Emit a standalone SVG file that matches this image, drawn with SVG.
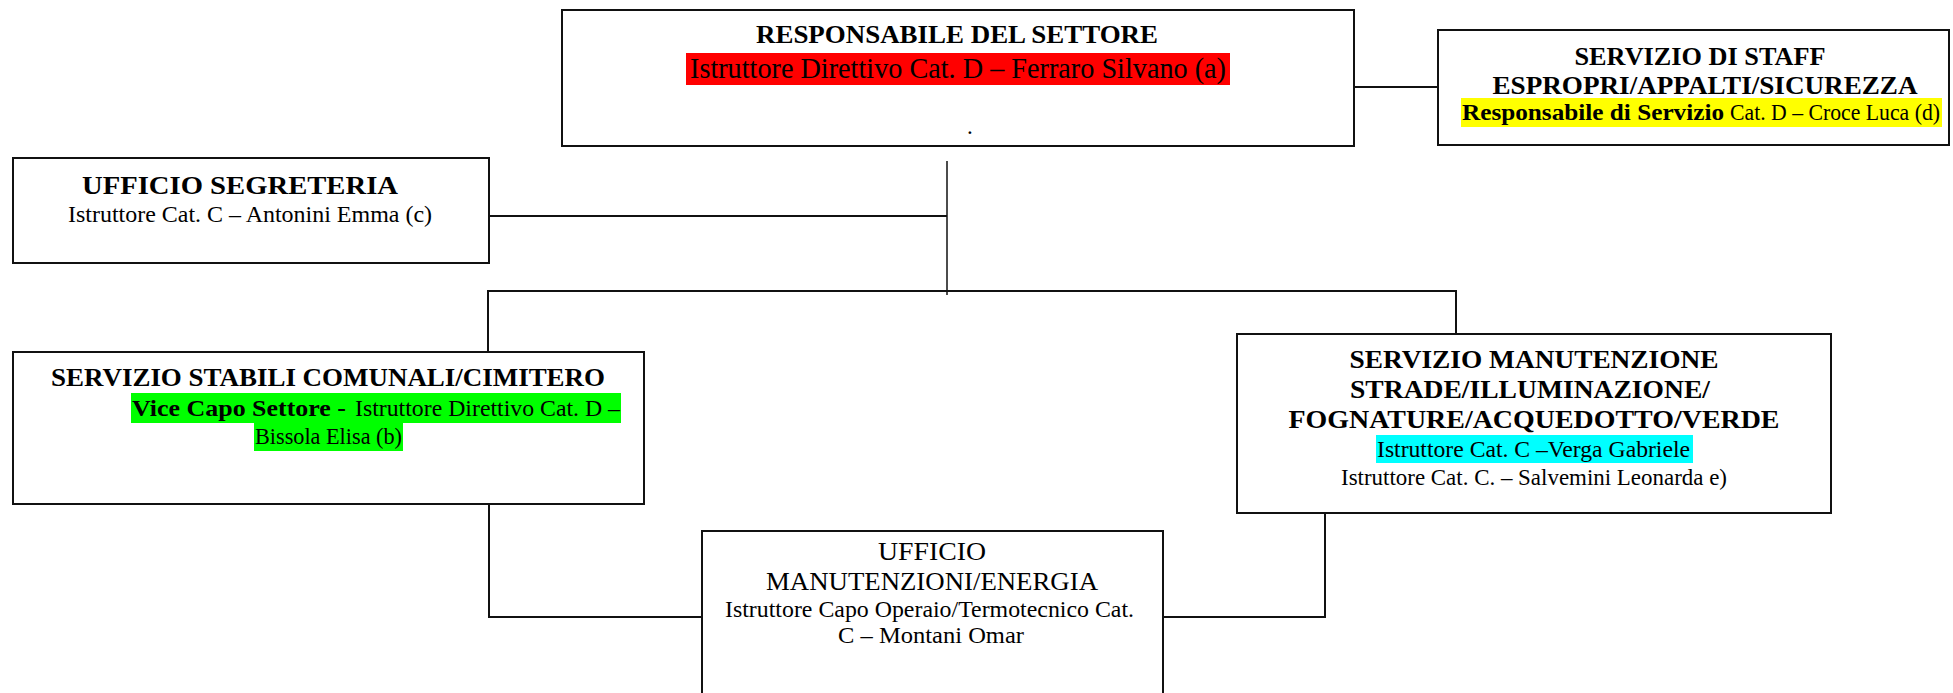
<svg xmlns="http://www.w3.org/2000/svg" width="1953" height="693" viewBox="0 0 1953 693">
<style>
.box{fill:#fff;stroke:#111;stroke-width:2}
.conn line,.conn polyline{stroke:#111;stroke-width:2;fill:none}
text{font-family:"Liberation Serif","Times New Roman",serif;fill:#000}
.t{font-size:25px;font-weight:bold}
.tn{font-size:25px}
.b{font-size:23px}
.bb{font-size:23px;font-weight:bold}
.red{font-size:30px}
.c{text-anchor:middle}
</style>
<rect width="1953" height="693" fill="#fff"/>
<g id="connectors" class="conn">
<line x1="1354" y1="87" x2="1438" y2="87"/>
<line x1="947" y1="161" x2="947" y2="295" style="stroke-width:1.5"/>
<line x1="489" y1="216" x2="947" y2="216"/>
<polyline points="488,352 488,291 1456,291 1456,334"/>
<polyline points="489,504 489,617 701,617"/>
<polyline points="1325,513 1325,617 1163,617"/>
</g>
<g id="responsabile">
<rect class="box" x="562" y="10" width="792" height="136"/>
<text class="t c" x="957" y="43" textLength="402" lengthAdjust="spacingAndGlyphs">RESPONSABILE DEL SETTORE</text>
<rect x="686" y="53" width="544" height="32" fill="#ff0000"/>
<text class="red c" x="958" y="78" textLength="536" lengthAdjust="spacingAndGlyphs">Istruttore Direttivo Cat. D – Ferraro Silvano (a)</text>
<text class="b" x="967" y="134">.</text>
</g>
<g id="staff">
<rect class="box" x="1438" y="30" width="511" height="115"/>
<text class="t c" x="1700" y="65" textLength="251" lengthAdjust="spacingAndGlyphs">SERVIZIO DI STAFF</text>
<text class="t c" x="1705" y="94" textLength="425" lengthAdjust="spacingAndGlyphs">ESPROPRI/APPALTI/SICUREZZA</text>
<rect x="1461" y="98" width="481" height="29" fill="#ffff00"/>
<text class="bb" x="1462" y="120" textLength="262" lengthAdjust="spacingAndGlyphs">Responsabile di Servizio</text>
<text class="b" x="1730" y="120" textLength="210" lengthAdjust="spacingAndGlyphs">Cat. D – Croce Luca (d)</text>
</g>
<g id="segreteria">
<rect class="box" x="13" y="158" width="476" height="105"/>
<text class="t c" x="240" y="194" textLength="316" lengthAdjust="spacingAndGlyphs">UFFICIO SEGRETERIA</text>
<text class="b" x="68" y="222" textLength="364" lengthAdjust="spacingAndGlyphs">Istruttore Cat. C – Antonini Emma  (c)</text>
</g>
<g id="stabili">
<rect class="box" x="13" y="352" width="631" height="152"/>
<text class="t c" x="328" y="386" textLength="554" lengthAdjust="spacingAndGlyphs">SERVIZIO STABILI COMUNALI/CIMITERO</text>
<rect x="131" y="393" width="490" height="30" fill="#00ff00"/>
<rect x="254" y="423" width="149" height="28" fill="#00ff00"/>
<text class="bb" x="132" y="416" textLength="214" lengthAdjust="spacingAndGlyphs">Vice Capo Settore -</text>
<text class="b" x="355" y="416" textLength="265" lengthAdjust="spacingAndGlyphs">Istruttore Direttivo Cat. D –</text>
<text class="b" x="255" y="444" textLength="147" lengthAdjust="spacingAndGlyphs">Bissola Elisa (b)</text>
</g>
<g id="manutenzione">
<rect class="box" x="1237" y="334" width="594" height="179"/>
<text class="t c" x="1534" y="368" textLength="369" lengthAdjust="spacingAndGlyphs">SERVIZIO MANUTENZIONE</text>
<text class="t c" x="1530" y="398" textLength="360" lengthAdjust="spacingAndGlyphs">STRADE/ILLUMINAZIONE/</text>
<text class="t c" x="1534" y="428" textLength="491" lengthAdjust="spacingAndGlyphs">FOGNATURE/ACQUEDOTTO/VERDE</text>
<rect x="1376" y="435" width="317" height="28" fill="#00ffff"/>
<text class="b" x="1377" y="457" textLength="313" lengthAdjust="spacingAndGlyphs">Istruttore  Cat. C –Verga Gabriele</text>
<text class="b" x="1341" y="485" textLength="386" lengthAdjust="spacingAndGlyphs">Istruttore Cat. C. – Salvemini Leonarda e)</text>
</g>
<g id="energia">
<rect class="box" x="702" y="531" width="461" height="175"/>
<text class="tn c" x="932" y="560" textLength="108" lengthAdjust="spacingAndGlyphs">UFFICIO</text>
<text class="tn c" x="932" y="590" textLength="332" lengthAdjust="spacingAndGlyphs">MANUTENZIONI/ENERGIA</text>
<text class="b" x="725" y="617" textLength="409" lengthAdjust="spacingAndGlyphs">Istruttore Capo Operaio/Termotecnico Cat.</text>
<text class="b" x="838" y="643" textLength="186" lengthAdjust="spacingAndGlyphs">C – Montani Omar</text>
</g>
</svg>
